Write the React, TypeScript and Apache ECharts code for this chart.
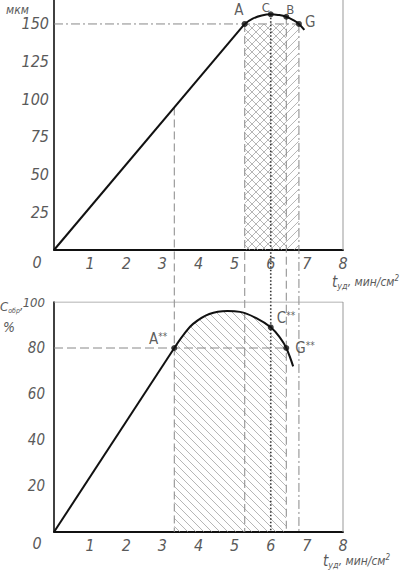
import { useEffect, useRef } from "react";
import * as echarts from "echarts";

// ---------- data ----------
const xTicks = [0, 1, 2, 3, 4, 5, 6, 7, 8];
const topYTicks = [25, 50, 75, 100, 125, 150];
const botYTicks = [20, 40, 60, 80, 100];

// upper chart (мкм)
const topLine = [[0, 0], [5.28, 150]];
const topCurve = [[5.28, 150], [5.5, 153.5], [5.75, 155.6], [6.0, 156.4], [6.2, 156.0], [6.43, 154.8], [6.65, 152.2], [6.78, 150], [6.93, 146]];
const topPointNames = ["A", "C", "B", "G"];
const topPointValues = [[5.28, 150], [6.0, 156.4], [6.43, 154.8], [6.78, 150]];

// lower chart (C обр, %)
const botLine = [[0, 0], [3.33, 80]];
const botCurve = [[3.33, 80], [3.6, 86], [3.85, 90.5], [4.3, 94.8], [4.8, 96.1], [5.15, 95.7], [5.6, 93], [6.0, 89], [6.26, 84.4], [6.43, 80], [6.62, 72]];
const botPointNames = ["A", "C", "G"];
const botPointValues = [[3.33, 80], [6.0, 89], [6.43, 80]];

// vertical guide lines: x position and the value on the upper chart where they start
const guideX = [3.33, 5.28, 6.0, 6.43, 6.78];
const guideTop = [94.6, 150, 156.4, 154.8, 150];
const guideKind = ["dash", "dash", "dot", "dash", "dashdot"];

// horizontal guide lines
const topLevel = 150;
const topLevelEnd = 6.78;
const botLevel = 80;
const botLevelEnd = 6.43;

// hatched zones
const topHatchX = [[5.28, 6.78], [5.28, 6.43]];
const topHatchDir = [-1, 1];
const botHatchX = [3.33, 6.43];

// ---------- layout ----------
const W = 406, H = 573;
const G0 = { left: 54, top: 0, width: 289, height: 250 };
const G1 = { left: 54, top: 302, width: 289, height: 230 };
const TOP_MAX = 165.9;
const BOT_MAX = 100;
const FONT = '"Liberation Sans Narrow", "DejaVu Sans Condensed", "Liberation Sans", sans-serif';
const TXT = "#5a5a5a";
const HATCH = "#a3a3a3";
const SPACING = 8;

const guideBottomVal = -((G1.top + G1.height) - (G0.top + G0.height)) * TOP_MAX / G0.height;

function lineStyleFor(kind: string) {
  if (kind === "dot") return { color: "#333", width: 1.6, type: [1.5, 2] };
  if (kind === "dashdot") return { color: "#888", width: 1, type: [9, 3, 2, 3] };
  return { color: "#888", width: 1, type: [8, 4] };
}

type Region = { x1: number; x2: number; top: number[][]; dir: number };

function makeHatch(regions: Region[]) {
  return (params: any, api: any) => {
    const r = regions[params.dataIndex];
    const pts = r.top.map((p) => api.coord(p));
    const X1 = api.coord([r.x1, 0])[0];
    const X2 = api.coord([r.x2, 0])[0];
    const axisY = api.coord([r.x1, 0])[1];
    const topAt = (px: number) => {
      if (px <= pts[0][0]) return pts[0][1];
      for (let i = 1; i < pts.length; i++) {
        if (px <= pts[i][0]) {
          const t = (px - pts[i - 1][0]) / (pts[i][0] - pts[i - 1][0]);
          return pts[i - 1][1] + t * (pts[i][1] - pts[i - 1][1]);
        }
      }
      return pts[pts.length - 1][1];
    };
    let minTop = Infinity;
    for (let px = X1; px <= X2; px += 0.5) minTop = Math.min(minTop, topAt(px));
    const d = r.dir;
    const cs = [minTop - d * X1, minTop - d * X2, axisY - d * X1, axisY - d * X2];
    const cmin = Math.min(...cs), cmax = Math.max(...cs);
    const children: any[] = [];
    for (let c = Math.ceil(cmin / SPACING) * SPACING; c <= cmax; c += SPACING) {
      let start: number[] | null = null;
      let last: number[] | null = null;
      for (let px = X1; px <= X2 + 0.001; px += 0.25) {
        const py = d * px + c;
        const inside = py >= topAt(px) && py <= axisY;
        if (inside) {
          if (!start) start = [px, py];
          last = [px, py];
        } else if (start && last) {
          children.push({ type: "line", shape: { x1: start[0], y1: start[1], x2: last[0], y2: last[1] }, style: { stroke: HATCH, lineWidth: 0.8 } });
          start = null; last = null;
        }
      }
      if (start && last) {
        children.push({ type: "line", shape: { x1: start[0], y1: start[1], x2: last[0], y2: last[1] }, style: { stroke: HATCH, lineWidth: 0.8 } });
      }
    }
    return { type: "group", children };
  };
}

const topRegions: Region[] = topHatchX.map((xx, i) => ({ x1: xx[0], x2: xx[1], top: [[xx[0], topLevel], [xx[1], topLevel]], dir: topHatchDir[i] }));
const botRegions: Region[] = [{ x1: botHatchX[0], x2: botHatchX[1], top: botCurve.filter((p) => p[0] >= botHatchX[0] && p[0] <= botHatchX[1]), dir: 1 }];

const labelFont = { fontFamily: FONT, fontStyle: "italic" as const, fontSize: 16, color: TXT };

function xAxis(gridIndex: number) {
  return {
    type: "value", gridIndex, min: 0, max: 8, interval: 1,
    axisLine: { show: true, onZero: false, lineStyle: { color: "#111", width: 2 } },
    axisTick: { show: false }, splitLine: { show: false },
    axisLabel: { ...labelFont, margin: 5, formatter: (v: number) => (v === 0 || !xTicks.includes(v) ? "" : String(v)) },
  };
}

function yAxis(gridIndex: number, max: number, interval: number, ticks: number[], margin: number, fontSize: number) {
  return {
    type: "value", gridIndex, min: 0, max, interval,
    axisLine: { show: true, onZero: false, lineStyle: { color: "#111", width: 1.6 } },
    axisTick: { show: false }, splitLine: { show: false },
    axisLabel: {
      ...labelFont, fontSize, margin, showMaxLabel: true,
      formatter: (v: number) => (ticks.includes(v) ? (v >= 100 && gridIndex === 1 ? `{k|${v}}` : String(v)) : ""),
      rich: { k: { fontFamily: FONT, fontStyle: "italic", fontSize: 13, color: TXT } },
    },
  };
}

const pointLabelRich = {
  a: { fontFamily: FONT, fontSize: 15, color: "#333" },
  b: { fontFamily: FONT, fontSize: 13, color: "#333" },
  s: { fontFamily: FONT, fontSize: 10, color: "#333", verticalAlign: "top" as const, padding: [0, 0, 6, 0] },
};

export default function App() {
  const ref = useRef<HTMLDivElement>(null);
  useEffect(() => {
    if (!ref.current) return;
    const chart = echarts.init(ref.current, undefined, { renderer: "svg" });
    const series: any[] = [];

    series.push({ type: "custom", xAxisIndex: 0, yAxisIndex: 0, coordinateSystem: "cartesian2d", renderItem: makeHatch(topRegions), data: topRegions.map((r) => [r.x1, 0]), silent: true, z: 1, clip: false });
    series.push({ type: "custom", xAxisIndex: 1, yAxisIndex: 1, coordinateSystem: "cartesian2d", renderItem: makeHatch(botRegions), data: botRegions.map((r) => [r.x1, 0]), silent: true, z: 1, clip: false });

    guideX.forEach((x, i) => {
      series.push({ type: "line", xAxisIndex: 0, yAxisIndex: 0, data: [[x, guideTop[i]], [x, guideBottomVal]], symbol: "none", clip: false, silent: true, z: 2, lineStyle: lineStyleFor(guideKind[i]) });
    });

    series.push({ type: "line", xAxisIndex: 0, yAxisIndex: 0, data: [[0, topLevel], [topLevelEnd, topLevel]], symbol: "none", silent: true, z: 2, lineStyle: { color: "#888", width: 1, type: [9, 3, 2, 3] } });
    series.push({ type: "line", xAxisIndex: 1, yAxisIndex: 1, data: [[0, botLevel], [botLevelEnd, botLevel]], symbol: "none", silent: true, z: 2, lineStyle: { color: "#888", width: 1, type: [9, 4] } });

    series.push({ type: "line", xAxisIndex: 0, yAxisIndex: 0, data: [[8, 0], [8, TOP_MAX]], symbol: "none", silent: true, z: 2, lineStyle: { color: "#999", width: 1 } });
    series.push({ type: "line", xAxisIndex: 1, yAxisIndex: 1, data: [[0, BOT_MAX], [8, BOT_MAX], [8, 0]], symbol: "none", silent: true, z: 2, lineStyle: { color: "#999", width: 1 } });

    const curveStyle = { color: "#111", width: 2 };
    series.push({ type: "line", xAxisIndex: 0, yAxisIndex: 0, data: topLine, symbol: "none", z: 5, lineStyle: curveStyle });
    series.push({ type: "line", xAxisIndex: 0, yAxisIndex: 0, data: topCurve, symbol: "none", smooth: 0.4, clip: false, z: 5, lineStyle: curveStyle });
    series.push({ type: "line", xAxisIndex: 1, yAxisIndex: 1, data: botLine, symbol: "none", z: 5, lineStyle: curveStyle });
    series.push({ type: "line", xAxisIndex: 1, yAxisIndex: 1, data: botCurve, symbol: "none", smooth: 0.4, z: 5, lineStyle: curveStyle });

    const topLabelPos: any[] = [
      { position: "top", offset: [-6, 0], distance: 3, style: "a" },
      { position: "top", offset: [-5, 3], distance: 0, style: "b" },
      { position: "top", offset: [4, 2], distance: 0, style: "b" },
      { position: "right", offset: [0, -2], distance: 3, style: "a" },
    ];
    series.push({
      type: "scatter", xAxisIndex: 0, yAxisIndex: 0, symbolSize: 6, z: 6, clip: false,
      itemStyle: { color: "#111" },
      data: topPointValues.map((v, i) => {
        const { style, ...pos } = topLabelPos[i];
        return { value: v, name: topPointNames[i], label: { show: true, ...pos, formatter: `{${style}|${topPointNames[i]}}`, rich: pointLabelRich } };
      }),
    });
    const botLabelPos: any[] = [
      { position: "left", offset: [0, -9], distance: 4 },
      { position: "right", offset: [0, -9], distance: 3 },
      { position: "right", offset: [0, 0], distance: 6 },
    ];
    series.push({
      type: "scatter", xAxisIndex: 1, yAxisIndex: 1, symbolSize: 6, z: 6,
      itemStyle: { color: "#111" },
      data: botPointValues.map((v, i) => ({ value: v, name: botPointNames[i], label: { show: true, ...botLabelPos[i], formatter: `{a|${botPointNames[i]}}{s|**}`, rich: pointLabelRich } })),
    });

    const titleRich = {
      t: { fontFamily: FONT, fontStyle: "italic", fontSize: 15, fill: TXT, verticalAlign: "middle" },
      c: { fontFamily: FONT, fontStyle: "italic", fontSize: 13, fill: TXT, verticalAlign: "middle" },
      s: { fontFamily: FONT, fontStyle: "italic", fontSize: 9, fill: TXT, verticalAlign: "bottom" },
      o: { fontFamily: FONT, fontStyle: "italic", fontSize: 7, fill: TXT, verticalAlign: "bottom" },
      n: { fontFamily: FONT, fontStyle: "italic", fontSize: 12, fill: TXT, verticalAlign: "middle" },
      p: { fontFamily: FONT, fontStyle: "italic", fontSize: 8, fill: TXT, verticalAlign: "top" },
    };

    chart.setOption({
      animation: false,
      backgroundColor: "#fff",
      grid: [
        { ...G0, containLabel: false, outerBoundsMode: "none" },
        { ...G1, containLabel: false, outerBoundsMode: "none" },
      ],
      xAxis: [xAxis(0), xAxis(1)],
      yAxis: [yAxis(0, TOP_MAX, 25, topYTicks, 5, 16), yAxis(1, BOT_MAX, 20, botYTicks, 9, 15)],
      series,
      graphic: [
        { type: "text", x: 6, y: 4, style: { text: "мкм", font: `italic 12px ${FONT}`, fill: TXT } },
        { type: "text", x: 37, y: 262, style: { text: "0", font: `italic 16px ${FONT}`, fill: TXT, align: "center", verticalAlign: "middle" } },
        { type: "text", x: 37, y: 543, style: { text: "0", font: `italic 16px ${FONT}`, fill: TXT, align: "center", verticalAlign: "middle" } },
        { type: "text", x: 332, y: 274, style: { text: "{t|t}{s|уд}{n|, мин/см}{p|2}", rich: titleRich, lineHeight: 16 } },
        { type: "text", x: 323, y: 553, style: { text: "{t|t}{s|уд}{n|, мин/см}{p|2}", rich: titleRich, lineHeight: 16 } },
        { type: "text", x: 0, y: 298, style: { text: "{c|C}{o|обр}{n|,}", rich: titleRich, lineHeight: 16 } },
        { type: "text", x: 3, y: 320, style: { text: "%", font: `italic 14px ${FONT}`, fill: TXT } },
      ],
    });
    return () => chart.dispose();
  }, []);
  return <div ref={ref} style={{ position: "fixed", left: 0, top: 0, width: W, height: H }} />;
}
